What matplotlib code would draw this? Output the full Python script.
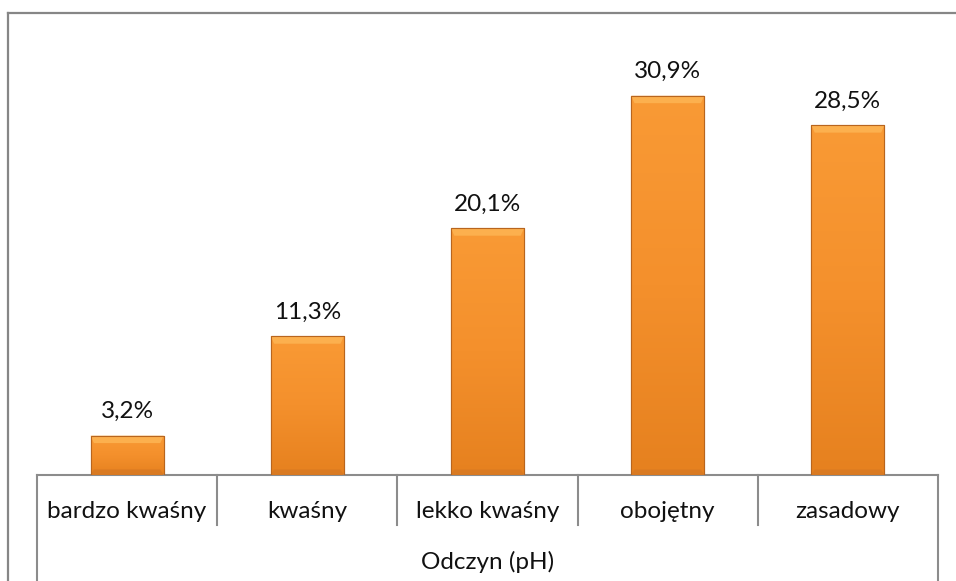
import numpy as np
import matplotlib
matplotlib.use('Agg')
import matplotlib.pyplot as plt
from matplotlib import transforms
from matplotlib.lines import Line2D
from matplotlib.colors import LinearSegmentedColormap

categories = ['bardzo kwaśny', 'kwaśny', 'lekko kwaśny', 'obojętny', 'zasadowy']
values = [3.2, 11.3, 20.1, 30.9, 28.5]
labels = ['3,2%', '11,3%', '20,1%', '30,9%', '28,5%']
axis_title = 'Odczyn (pH)'

plt.rcParams['font.family'] = ['Lato', 'DejaVu Sans']

W, H = 956, 581
fig = plt.figure(figsize=(W / 100, H / 100), dpi=100)
ax = fig.add_axes([37 / W, 1 - 475 / H, (938 - 37) / W, (475 - 45.5) / H])

x = np.arange(len(categories))
bars = ax.bar(x, values, width=0.405, color='#F39131', edgecolor='#B8651E', linewidth=0.8, zorder=2)

# gradient fill + bevel on top of each bar
cmap = LinearSegmentedColormap.from_list('bev', ['#E6811F', '#F4902C', '#F99A35'])
grad = np.linspace(0, 1, 100).reshape(-1, 1)
for b in bars:
    x0, w, h = b.get_x(), b.get_width(), b.get_height()
    im = ax.imshow(grad, extent=[x0, x0 + w, 0, h], origin='lower', cmap=cmap,
                   aspect='auto', zorder=2.5, interpolation='bilinear')
    im.set_clip_path(b)
    bev = 0.045 * w
    bh = 0.6  # bevel height in data units
    ax.fill([x0, x0 + w, x0 + w - bev, x0 + bev], [h, h, h - bh, h - bh],
            color='#FCB04E', zorder=3, lw=0)
    ax.fill([x0, x0 + w, x0 + w - bev, x0 + bev], [0, 0, 0.45, 0.45],
            color='#D97A22', zorder=3, lw=0)
    ax.add_patch(plt.Rectangle((x0, 0), w, h, fill=False, ec='#B8651E', lw=0.8, zorder=3.5))

for xi, v, lab in zip(x, values, labels):
    ax.annotate(lab, (xi, v), xytext=(0, 10), textcoords='offset points',
                ha='center', va='bottom', fontsize=17.5, color='#111111')

ax.set_xlim(-0.5, len(categories) - 0.5)
ax.set_ylim(0, 35)
ax.set_xticks([])
ax.set_yticks([])
for s in ['top', 'right', 'left']:
    ax.spines[s].set_visible(False)
ax.spines['bottom'].set_color('#8C8C8C')
ax.spines['bottom'].set_linewidth(1.5)

trans = transforms.blended_transform_factory(ax.transData, ax.transAxes)
ah = 475 - 45.5
sep_low = (475 - 525) / ah
out_low = (475 - 585) / ah
for i in range(len(categories) + 1):
    xs = i - 0.5
    low = out_low if i in (0, len(categories)) else sep_low
    ax.plot([xs, xs], [0, low], transform=trans, color='#8C8C8C', lw=1.5, clip_on=False)

for xi, c in zip(x, categories):
    ax.text(xi, (475 - 511) / ah, c, transform=trans, ha='center', va='center',
            fontsize=17.5, color='#111111')
ax.text((len(categories) - 1) / 2, (475 - 562) / ah, axis_title, transform=trans,
        ha='center', va='center', fontsize=17.5, color='#111111')

# chart border
fig.add_artist(Line2D([7.5 / W, 7.5 / W], [0, 1 - 12.5 / H], color='#868686', lw=1.6))
fig.add_artist(Line2D([7.5 / W, 1], [1 - 12.5 / H, 1 - 12.5 / H], color='#868686', lw=1.6))

fig.savefig('out.png', dpi=100)
